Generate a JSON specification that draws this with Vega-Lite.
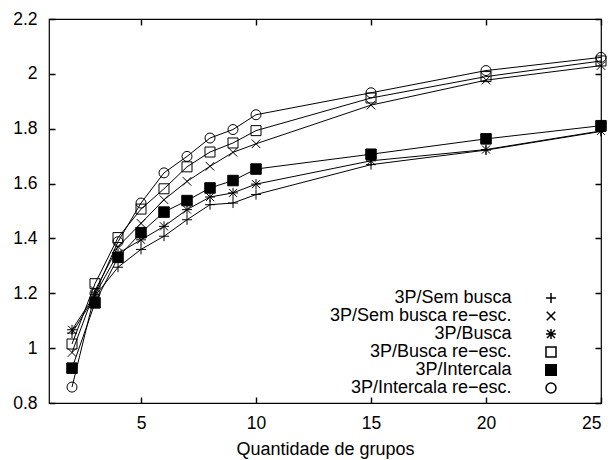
{
  "$schema": "https://vega.github.io/schema/vega-lite/v6.json",
  "autosize": {"type": "none"},
  "width": 552,
  "height": 384,
  "padding": {"left": 49, "top": 19, "right": 12, "bottom": 57},
  "background": "white",
  "config": {
    "view": {"stroke": "black", "strokeWidth": 1.2},
    "font": "Liberation Sans",
    "axis": {
      "labelFont": "Liberation Sans", "labelFontSize": 17.5, "labelColor": "black",
      "titleFont": "Liberation Sans", "titleFontSize": 18, "titleFontWeight": "normal", "titleColor": "black",
      "ticks": false, "tickSize": 0, "domain": false, "zindex": 1,
      "grid": true, "gridColor": "black", "gridWidth": 1.4, "gridOpacity": 1
    }
  },
  "data": {"values": [
    {"serie": "3P/Sem busca", "x": 2, "y": 1.055}, {"serie": "3P/Sem busca", "x": 3, "y": 1.19}, {"serie": "3P/Sem busca", "x": 4, "y": 1.295}, {"serie": "3P/Sem busca", "x": 5, "y": 1.36}, {"serie": "3P/Sem busca", "x": 6, "y": 1.408}, {"serie": "3P/Sem busca", "x": 7, "y": 1.468}, {"serie": "3P/Sem busca", "x": 8, "y": 1.523}, {"serie": "3P/Sem busca", "x": 9, "y": 1.529}, {"serie": "3P/Sem busca", "x": 10, "y": 1.56}, {"serie": "3P/Sem busca", "x": 15, "y": 1.669}, {"serie": "3P/Sem busca", "x": 20, "y": 1.722}, {"serie": "3P/Sem busca", "x": 25, "y": 1.79},
    {"serie": "3P/Sem busca re−esc.", "x": 2, "y": 0.984}, {"serie": "3P/Sem busca re−esc.", "x": 3, "y": 1.21}, {"serie": "3P/Sem busca re−esc.", "x": 4, "y": 1.37}, {"serie": "3P/Sem busca re−esc.", "x": 5, "y": 1.455}, {"serie": "3P/Sem busca re−esc.", "x": 6, "y": 1.541}, {"serie": "3P/Sem busca re−esc.", "x": 7, "y": 1.608}, {"serie": "3P/Sem busca re−esc.", "x": 8, "y": 1.663}, {"serie": "3P/Sem busca re−esc.", "x": 9, "y": 1.714}, {"serie": "3P/Sem busca re−esc.", "x": 10, "y": 1.745}, {"serie": "3P/Sem busca re−esc.", "x": 15, "y": 1.886}, {"serie": "3P/Sem busca re−esc.", "x": 20, "y": 1.977}, {"serie": "3P/Sem busca re−esc.", "x": 25, "y": 2.03},
    {"serie": "3P/Busca", "x": 2, "y": 1.067}, {"serie": "3P/Busca", "x": 3, "y": 1.195}, {"serie": "3P/Busca", "x": 4, "y": 1.345}, {"serie": "3P/Busca", "x": 5, "y": 1.395}, {"serie": "3P/Busca", "x": 6, "y": 1.444}, {"serie": "3P/Busca", "x": 7, "y": 1.505}, {"serie": "3P/Busca", "x": 8, "y": 1.551}, {"serie": "3P/Busca", "x": 9, "y": 1.566}, {"serie": "3P/Busca", "x": 10, "y": 1.598}, {"serie": "3P/Busca", "x": 15, "y": 1.683}, {"serie": "3P/Busca", "x": 20, "y": 1.724}, {"serie": "3P/Busca", "x": 25, "y": 1.792},
    {"serie": "3P/Busca re−esc.", "x": 2, "y": 1.015}, {"serie": "3P/Busca re−esc.", "x": 3, "y": 1.235}, {"serie": "3P/Busca re−esc.", "x": 4, "y": 1.403}, {"serie": "3P/Busca re−esc.", "x": 5, "y": 1.507}, {"serie": "3P/Busca re−esc.", "x": 6, "y": 1.581}, {"serie": "3P/Busca re−esc.", "x": 7, "y": 1.661}, {"serie": "3P/Busca re−esc.", "x": 8, "y": 1.715}, {"serie": "3P/Busca re−esc.", "x": 9, "y": 1.748}, {"serie": "3P/Busca re−esc.", "x": 10, "y": 1.793}, {"serie": "3P/Busca re−esc.", "x": 15, "y": 1.912}, {"serie": "3P/Busca re−esc.", "x": 20, "y": 1.99}, {"serie": "3P/Busca re−esc.", "x": 25, "y": 2.047},
    {"serie": "3P/Intercala", "x": 2, "y": 0.927}, {"serie": "3P/Intercala", "x": 3, "y": 1.165}, {"serie": "3P/Intercala", "x": 4, "y": 1.331}, {"serie": "3P/Intercala", "x": 5, "y": 1.421}, {"serie": "3P/Intercala", "x": 6, "y": 1.496}, {"serie": "3P/Intercala", "x": 7, "y": 1.538}, {"serie": "3P/Intercala", "x": 8, "y": 1.584}, {"serie": "3P/Intercala", "x": 9, "y": 1.611}, {"serie": "3P/Intercala", "x": 10, "y": 1.653}, {"serie": "3P/Intercala", "x": 15, "y": 1.707}, {"serie": "3P/Intercala", "x": 20, "y": 1.763}, {"serie": "3P/Intercala", "x": 25, "y": 1.811},
    {"serie": "3P/Intercala re−esc.", "x": 2, "y": 0.858}, {"serie": "3P/Intercala re−esc.", "x": 3, "y": 1.2}, {"serie": "3P/Intercala re−esc.", "x": 4, "y": 1.388}, {"serie": "3P/Intercala re−esc.", "x": 5, "y": 1.529}, {"serie": "3P/Intercala re−esc.", "x": 6, "y": 1.639}, {"serie": "3P/Intercala re−esc.", "x": 7, "y": 1.699}, {"serie": "3P/Intercala re−esc.", "x": 8, "y": 1.766}, {"serie": "3P/Intercala re−esc.", "x": 9, "y": 1.797}, {"serie": "3P/Intercala re−esc.", "x": 10, "y": 1.851}, {"serie": "3P/Intercala re−esc.", "x": 15, "y": 1.931}, {"serie": "3P/Intercala re−esc.", "x": 20, "y": 2.012}, {"serie": "3P/Intercala re−esc.", "x": 25, "y": 2.06}
  ]},
  "encoding": {
    "x": {"field": "x", "type": "quantitative", "scale": {"domain": [1, 25], "nice": false, "zero": false},
          "axis": {"orient": "bottom", "values": [5, 10, 15, 20, 25], "labelPadding": 11, "gridDash": [6, 372, 6, 200], "title": "Quantidade de grupos", "titlePadding": 9}},
    "y": {"field": "y", "type": "quantitative", "scale": {"domain": [0.8, 2.2], "nice": false, "zero": false},
          "axis": {"orient": "left", "values": [0.8, 1, 1.2, 1.4, 1.6, 1.8, 2, 2.2], "format": ".1~f", "labelPadding": 12, "gridDash": [6, 540, 6, 200], "title": null}}
  },
  "layer": [
    {
      "mark": {"type": "line", "color": "black", "strokeWidth": 1},
      "encoding": {
        "detail": {"field": "serie"},
        "order": {"field": "x", "type": "quantitative"}
      }
    },
    {
      "mark": {"type": "point", "filled": false, "stroke": "black", "strokeWidth": 1, "opacity": 1, "size": 100},
      "encoding": {
        "shape": {"field": "serie", "type": "nominal",
          "scale": {"domain": ["3P/Sem busca", "3P/Sem busca re−esc.", "3P/Busca", "3P/Busca re−esc.", "3P/Intercala", "3P/Intercala re−esc."],
                    "range": ["M-1,0H1M0,-1V1", "M-0.85,-0.85L0.85,0.85M-0.85,0.85L0.85,-0.85", "M-1,0H1M0,-1V1M-0.8,-0.8L0.8,0.8M-0.8,0.8L0.8,-0.8", "M-1,-1H1V1H-1Z", "M-1.05,-1.05H1.05V1.05H-1.05Z", "circle"]},
          "legend": {
            "orient": "none", "legendX": 493, "legendY": 270, "title": null,
            "labelFont": "Liberation Sans", "labelFontSize": 18, "labelColor": "black",
            "labelAlign": "right", "labelOffset": -48.5, "labelLimit": 0,
            "rowPadding": 0
          }},
        "fill": {"field": "serie", "type": "nominal",
          "scale": {"domain": ["3P/Sem busca", "3P/Sem busca re−esc.", "3P/Busca", "3P/Busca re−esc.", "3P/Intercala", "3P/Intercala re−esc."],
                    "range": ["transparent", "transparent", "transparent", "transparent", "black", "transparent"]},
          "legend": null}
      }
    }
  ]
}
